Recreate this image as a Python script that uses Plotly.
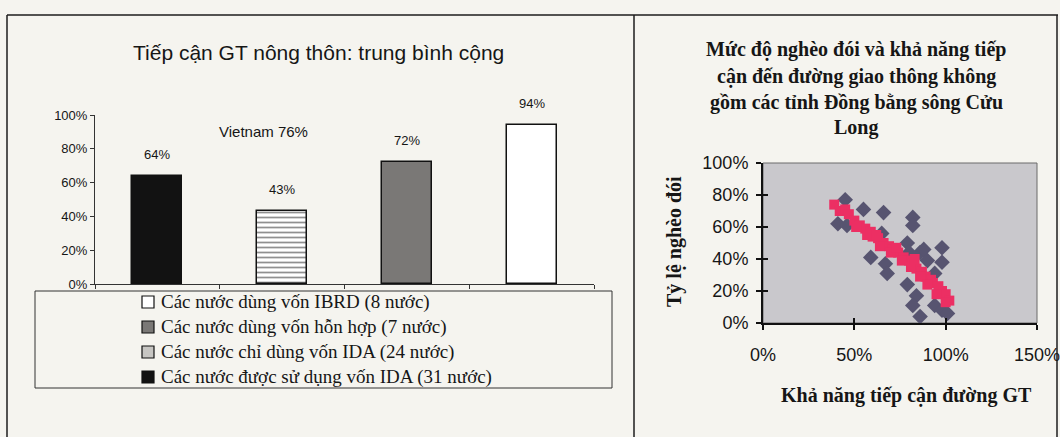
import plotly.graph_objects as go

# ---- Left panel: rural transport access, simple average ----
bar_groups = ["IDA31", "IDA24", "MIX7", "IBRD8"]
bar_values = [0.64, 0.43, 0.72, 0.94]
bar_names = [
    "Các nước được sử dụng vốn IDA (31 nước)",
    "Các nước chỉ dùng vốn IDA (24 nước)",
    "Các nước dùng vốn hỗn hợp (7 nước)",
    "Các nước dùng vốn IBRD (8 nước)",
]
bar_labels = ["64%", "43%", "72%", "94%"]
vietnam_note = "Vietnam 76%"

# ---- Right panel: poverty vs road access (excluding Mekong Delta) ----
prov_access = [45, 41, 46, 55, 66, 82, 82, 59, 67, 68, 65, 79, 86, 79, 84, 82, 86,
               88, 98, 98, 94, 94, 98, 101, 90, 80]
prov_poverty = [77, 62, 61, 71, 69, 66, 61, 41, 37, 31, 56, 50, 44, 24, 17, 11, 4,
                46, 47, 38, 31, 11, 8, 6, 39, 44]

fit_access = [39, 42, 45, 47, 50, 53, 56, 59, 60, 63, 66, 69, 71, 74, 77, 80, 82, 84,
              87, 89, 92, 93, 96, 98, 100, 102, 51, 57, 62, 64, 70, 73, 76, 81, 83, 86,
              90, 95, 100]
fit_poverty = [74, 70, 71, 68, 64, 61, 59, 57, 54, 53, 50, 48, 46, 44, 41, 39, 37, 34,
               32, 29, 27, 25, 23, 20, 18, 14, 60, 55, 55, 48, 44, 47, 39, 35, 40, 29,
               24, 18, 13]

W, H = 1060, 437
SANS = "Liberation Sans, Arial, sans-serif"
SERIF = "Liberation Serif, Times New Roman, serif"
INK = "#161616"


def px(x):
    return x / W


def py(y):
    return 1 - y / H


fig = go.Figure()

bar_fill = ["#121212", "#ffffff", "#7a7876", "#ffffff"]
bar_pattern = ["", "-", "", ""]
swatch_fill = ["#121212", "#c6c5c2", "#7a7876", "#ffffff"]
for i in range(4):
    fig.add_trace(go.Bar(
        x=[bar_groups[i]], y=[bar_values[i]], name=bar_names[i],
        width=0.4, xaxis="x", yaxis="y", showlegend=False,
        marker=dict(color=bar_fill[i], line=dict(color="#111111", width=1.5),
                    pattern=dict(shape=bar_pattern[i], fgcolor="#222222",
                                 bgcolor="#ffffff", size=5, solidity=0.35)),
    ))

fig.add_trace(go.Scatter(
    x=[a / 100 for a in prov_access], y=[p / 100 for p in prov_poverty],
    mode="markers", xaxis="x2", yaxis="y2", showlegend=False,
    marker=dict(symbol="diamond", size=12, color="#575470"),
))
fig.add_trace(go.Scatter(
    x=[a / 100 for a in fit_access], y=[p / 100 for p in fit_poverty],
    mode="markers", xaxis="x2", yaxis="y2", showlegend=False,
    marker=dict(symbol="square", size=10, color="#ec2f63"),
))
# empty carrier so the inner tick axes get drawn
fig.add_trace(go.Scatter(x=[None], y=[None], xaxis="x3", yaxis="y3",
                         showlegend=False, hoverinfo="skip"))

annotations = []
shapes = []

for g, v, t in zip(bar_groups, bar_values, bar_labels):
    annotations.append(dict(x=g, y=v, xref="x", yref="y", text=t, showarrow=False,
                            xanchor="center", yanchor="bottom", yshift=12,
                            font=dict(family=SANS, size=13, color=INK)))
annotations.append(dict(x=0.85, y=0.9, xref="x", yref="y", text=vietnam_note,
                        xanchor="center", showarrow=False,
                        font=dict(family=SANS, size=15, color=INK)))
annotations.append(dict(x=px(318), y=py(52), xref="paper", yref="paper",
                        xanchor="center", yanchor="middle",
                        text="Tiếp cận GT nông thôn: trung bình cộng", showarrow=False,
                        font=dict(family=SANS, size=21, color=INK)))

# legend box, listed from the last series to the first
shapes.append(dict(type="rect", xref="paper", yref="paper", x0=px(35), x1=px(612),
                   y0=py(388), y1=py(291), line=dict(color="#333333", width=1)))
for row, i in enumerate(reversed(range(4))):
    yc = 302 + 25 * row
    shapes.append(dict(type="rect", xref="paper", yref="paper",
                       x0=px(142), x1=px(154), y0=py(yc + 6), y1=py(yc - 6),
                       fillcolor=swatch_fill[i], line=dict(color="#111111", width=1.2)))
    annotations.append(dict(x=px(159), y=py(yc), xref="paper", yref="paper",
                            xanchor="left", yanchor="middle", text=bar_names[i],
                            showarrow=False,
                            font=dict(family=SERIF, size=19, color=INK)))

title_lines = ["Mức độ nghèo đói và khả năng tiếp", "cận đến đường giao thông không",
               "gồm các tỉnh Đồng bằng sông Cửu", "Long"]
for k, line in enumerate(title_lines):
    annotations.append(dict(x=px(856), y=py(50 + 26 * k), xref="paper", yref="paper",
                            xanchor="center", yanchor="middle",
                            text="<b>" + line + "</b>", showarrow=False,
                            font=dict(family=SERIF, size=20, color=INK)))
annotations.append(dict(x=px(674), y=py(242), xref="paper", yref="paper",
                        xanchor="center", yanchor="middle",
                        text="<b>Tỷ lệ nghèo đói</b>", textangle=-90, showarrow=False,
                        font=dict(family=SERIF, size=20, color=INK)))
annotations.append(dict(x=px(906), y=py(395), xref="paper", yref="paper",
                        xanchor="center", yanchor="middle",
                        text="<b>Khả năng tiếp cận đường GT</b>", showarrow=False,
                        font=dict(family=SERIF, size=20, color=INK)))

frame = dict(color="#1c1c1c", width=1.5)
shapes += [
    dict(type="line", xref="paper", yref="paper", x0=px(7), x1=px(1058), y0=py(15), y1=py(15), line=frame),
    dict(type="line", xref="paper", yref="paper", x0=px(7), x1=px(7), y0=py(15), y1=0, line=frame),
    dict(type="line", xref="paper", yref="paper", x0=px(634), x1=px(634), y0=py(15), y1=0, line=frame),
    dict(type="line", xref="paper", yref="paper", x0=px(1057), x1=px(1057), y0=py(15), y1=0, line=frame),
    dict(type="rect", xref="x2 domain", yref="y2 domain", x0=0, x1=1, y0=0, y1=1,
         fillcolor="#c9c8cc", line=dict(color="#6a6a6a", width=1), layer="below"),
]

fig.update_layout(
    width=W, height=H, margin=dict(l=0, r=0, t=0, b=0, autoexpand=False),
    paper_bgcolor="#f5f4ef", plot_bgcolor="rgba(0,0,0,0)",
    barmode="overlay", bargap=0, showlegend=False,
    xaxis=dict(domain=[px(95), px(594)], range=[-0.5, 3.5], type="category",
               categoryorder="array", categoryarray=bar_groups, automargin=False,
               showline=True, linecolor="#333333", linewidth=1,
               ticks="outside", tickson="boundaries", ticklen=4, tickcolor="#333333",
               showticklabels=False, showgrid=False, zeroline=False, fixedrange=True),
    yaxis=dict(domain=[py(284), py(115)], range=[0, 1], dtick=0.2, tickformat=".0%",
               automargin=False,
               showline=True, linecolor="#333333", linewidth=1,
               ticks="outside", ticklen=4, tickcolor="#333333",
               tickfont=dict(family=SANS, size=13, color=INK),
               showgrid=False, zeroline=False),
    xaxis2=dict(domain=[px(763), px(1037)], range=[0, 1.5], dtick=0.5, tickformat=".0%",
                anchor="y2", automargin=False, showline=True, linecolor="#111111", linewidth=2,
                ticks="outside", ticklen=5, tickwidth=2, tickcolor="#111111",
                ticklabelstandoff=9, ticklabeloverflow="allow",
                tickfont=dict(family=SANS, size=18, color=INK),
                showgrid=False, zeroline=False),
    yaxis2=dict(domain=[py(323), py(163)], range=[0, 1], dtick=0.2, tickformat=".0%",
                anchor="x2", automargin=False, showline=True, linecolor="#111111", linewidth=2,
                ticks="outside", ticklen=5, tickwidth=2, tickcolor="#111111",
                ticklabelstandoff=4,
                tickfont=dict(family=SANS, size=18, color=INK),
                showgrid=False, zeroline=False),
    xaxis3=dict(domain=[px(763), px(1037)], range=[0, 1.5], dtick=0.5, overlaying="x2",
                anchor="y3", side="bottom", ticks="inside", ticklen=5, tickwidth=2,
                tickcolor="#111111", showticklabels=False, showline=False, automargin=False,
                showgrid=False, zeroline=False),
    yaxis3=dict(domain=[py(323), py(163)], range=[0, 1], dtick=0.2, overlaying="y2",
                anchor="x3", side="left", ticks="inside", ticklen=5, tickwidth=2,
                tickcolor="#111111", showticklabels=False, showline=False, automargin=False,
                showgrid=False, zeroline=False),
    annotations=annotations,
    shapes=shapes,
)

fig.write_html("out.html")
